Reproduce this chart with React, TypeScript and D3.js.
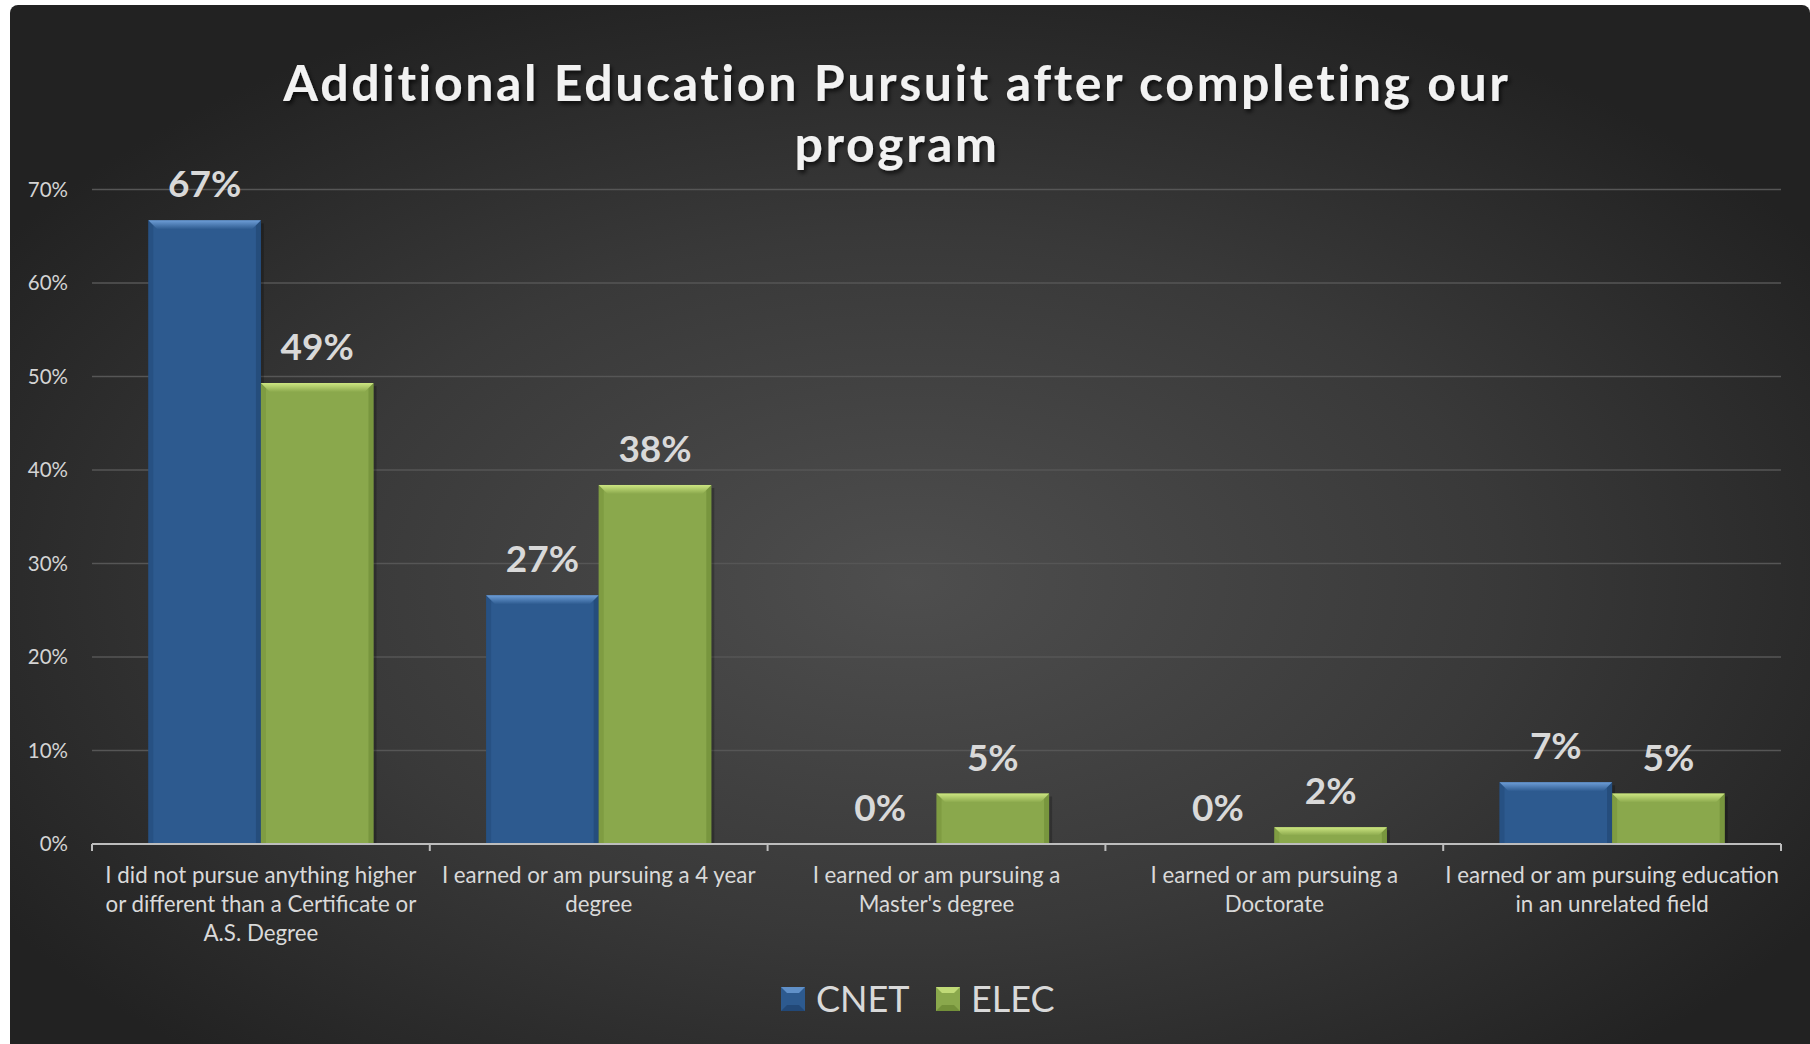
import React from "react";
import * as d3 from "d3";

const categories = [
  "I did not pursue anything higher or different than a Certificate or A.S. Degree",
  "I earned or am pursuing a 4 year degree",
  "I earned or am pursuing a Master's degree",
  "I earned or am pursuing a Doctorate",
  "I earned or am pursuing education in an unrelated field",
];
const categoryLines = [
  ["I did not pursue anything higher", "or different than a Certificate or", "A.S. Degree"],
  ["I earned or am pursuing a 4 year", "degree"],
  ["I earned or am pursuing a", "Master's degree"],
  ["I earned or am pursuing a", "Doctorate"],
  ["I earned or am pursuing education", "in an unrelated field"],
];
const seriesNames = ["CNET", "ELEC"];
const cnetValues = [0.667, 0.266, 0, 0, 0.066];
const elecValues = [0.493, 0.384, 0.054, 0.018, 0.054];
const yTicks = [0, 0.1, 0.2, 0.3, 0.4, 0.5, 0.6, 0.7];
const titleLines = ["Additional Education Pursuit after completing our", "program"];

const W = 1810;
const H = 1044;
const FONT = "Lato, 'Open Sans', sans-serif";
const colors: Record<string, { base: string; top: string; side: string; bottom: string }> = {
  CNET: { base: "#2d5a8f", top: "#6d9dd6", side: "#1f4470", bottom: "#244b78" },
  ELEC: { base: "#8aa84c", top: "#cde682", side: "#6d8a35", bottom: "#7a963f" },
};

function Bar({ x, y, w, h, s }: { x: number; y: number; w: number; h: number; s: string }) {
  const c = colors[s];
  const b = Math.min(9, h / 2, w / 2);
  const bs = Math.min(5, h / 2);
  const yb = y + h;
  return (
    <g>
      <rect x={x + 3} y={y + 3} width={w} height={h - 3 > 0 ? h - 3 : 0} fill="#000" opacity={0.22} />
      <rect x={x} y={y} width={w} height={h} fill={c.base} />
      <polygon points={`${x},${y} ${x + bs},${y + bs} ${x + bs},${yb} ${x},${yb}`} fill={c.side} opacity={0.4} />
      <polygon points={`${x + w},${y} ${x + w - bs},${y + bs} ${x + w - bs},${yb} ${x + w},${yb}`} fill={c.side} opacity={0.6} />
      <polygon points={`${x},${y} ${x + w},${y} ${x + w - b},${y + b} ${x + b},${y + b}`} fill={`url(#top-${s})`} />
    </g>
  );
}

export default function App() {
  const plotLeft = 92;
  const plotRight = 1781;
  const y0 = 844;
  const x0 = d3.scaleBand<string>().domain(categories).range([plotLeft, plotRight]).padding(0);
  const x1 = d3.scaleBand<string>().domain(seriesNames).range([0, x0.bandwidth()]).paddingInner(0).paddingOuter(0.5);
  const y = d3.scaleLinear().domain([0, 0.7]).range([y0, 189.5]);
  const fmt = d3.format(".0%");
  const series = [
    { name: "CNET", values: cnetValues },
    { name: "ELEC", values: elecValues },
  ];
  const ticks = d3.range(categories.length + 1).map((i) => plotLeft + i * x0.step());

  return (
    <svg width={W} height={H} style={{ position: "absolute", left: 0, top: 0 }}>
      <defs>
        <radialGradient id="bg" cx="0.5" cy="0.55" r="0.6" fx="0.5" fy="0.55">
          <stop offset="0" stopColor="#4e4e4e" />
          <stop offset="0.55" stopColor="#393939" />
          <stop offset="1" stopColor="#222222" />
        </radialGradient>
        {seriesNames.map((s) => (
          <linearGradient key={s} id={`top-${s}`} x1="0" y1="0" x2="0" y2="1">
            <stop offset="0" stopColor={colors[s].top} />
            <stop offset="1" stopColor={colors[s].base} />
          </linearGradient>
        ))}
        <filter id="tshadow" x="-5%" y="-20%" width="110%" height="150%">
          <feDropShadow dx="2" dy="3" stdDeviation="2" floodColor="#000" floodOpacity="0.7" />
        </filter>
      </defs>
      <rect x={0} y={0} width={W} height={H} fill="#ffffff" />
      <rect x={10} y={5} width={W - 10} height={H - 5 + 10} rx={8} fill="url(#bg)" />

      {yTicks.map((t) =>
        t > 0 ? (
          <line key={t} x1={plotLeft} x2={plotRight} y1={y(t)} y2={y(t)} stroke="#565656" strokeWidth={1.5} />
        ) : null
      )}
      {yTicks.map((t) => (
        <text key={"l" + t} x={68} y={y(t)} dy="0.35em" textAnchor="end" fill="#d4d4d4" fontFamily={FONT} fontSize={20.5}>
          {fmt(t)}
        </text>
      ))}

      {series.map((s) =>
        s.values.map((v, i) => {
          const bx = (x0(categories[i]) as number) + (x1(s.name) as number);
          const bw = x1.bandwidth();
          const h = y0 - y(v);
          return v > 0 ? <Bar key={s.name + i} x={bx} y={y(v)} w={bw} h={h} s={s.name} /> : null;
        })
      )}

      <line x1={plotLeft} x2={plotRight} y1={y0} y2={y0} stroke="#bdbdbd" strokeWidth={2} />
      {ticks.map((t, i) => (
        <line key={"t" + i} x1={t} x2={t} y1={y0} y2={y0 + 7} stroke="#bdbdbd" strokeWidth={2} />
      ))}

      {series.map((s) =>
        s.values.map((v, i) => {
          const cx = (x0(categories[i]) as number) + (x1(s.name) as number) + x1.bandwidth() / 2;
          return (
            <text key={"d" + s.name + i} x={cx} y={y(v) - 23} textAnchor="middle" fill="#d9d9d9" fontFamily={FONT} fontWeight="bold" fontSize={37}>
              {fmt(v)}
            </text>
          );
        })
      )}

      {categoryLines.map((lines, i) => {
        const cx = (x0(categories[i]) as number) + x0.bandwidth() / 2;
        return (
          <text key={"c" + i} x={cx} y={883} textAnchor="middle" fill="#d9d9d9" fontFamily={FONT} fontSize={22.3}>
            {lines.map((ln, j) => (
              <tspan key={j} x={cx} dy={j === 0 ? 0 : 29}>
                {ln}
              </tspan>
            ))}
          </text>
        );
      })}

      <g filter="url(#tshadow)">
        {titleLines.map((ln, i) => (
          <text key={"ti" + i} x={897} y={101 + i * 61} textAnchor="middle" fill="#f2f2f2" fontFamily={FONT} fontWeight="bold" fontSize={50} letterSpacing={2.6}>
            {ln}
          </text>
        ))}
      </g>

      {seriesNames.map((s, i) => {
        const lx = [781, 936][i];
        const ly = 987;
        const sz = 24;
        const b = 6;
        const c = colors[s];
        return (
          <g key={"lg" + s}>
            <rect x={lx} y={ly} width={sz} height={sz} fill={c.base} />
            <polygon points={`${lx},${ly} ${lx + sz},${ly} ${lx + sz / 2},${ly + sz / 2}`} fill={c.top} opacity={0.8} />
            <polygon points={`${lx},${ly + sz} ${lx + sz},${ly + sz} ${lx + sz / 2},${ly + sz / 2}`} fill={c.side} opacity={0.8} />
            <rect x={lx + b} y={ly + b} width={sz - 2 * b} height={sz - 2 * b} fill={c.base} />
            <text x={lx + 35} y={ly + 12} dy="0.36em" fill="#d9d9d9" fontFamily={FONT} fontSize={36}>
              {s}
            </text>
          </g>
        );
      })}
    </svg>
  );
}
